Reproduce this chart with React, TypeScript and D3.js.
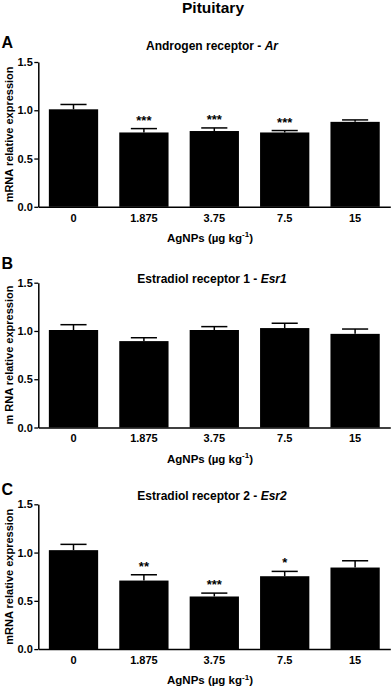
import React, { useEffect, useRef } from "react";
import * as d3 from "d3";

const categories = ["0", "1.875", "3.75", "7.5", "15"];
const yTicks = [0, 0.5, 1.0, 1.5];

const arMean = [1.01, 0.77, 0.785, 0.77, 0.88];
const arErr = [0.05, 0.04, 0.032, 0.02, 0.02];
const arSig = ["", "***", "***", "***", ""];

const esr1Mean = [1.01, 0.895, 1.01, 1.03, 0.97];
const esr1Err = [0.055, 0.035, 0.035, 0.05, 0.05];
const esr1Sig = ["", "", "", "", ""];

const esr2Mean = [1.025, 0.71, 0.545, 0.755, 0.845];
const esr2Err = [0.06, 0.06, 0.035, 0.05, 0.07];
const esr2Sig = ["", "**", "***", "*", ""];

const FONT = "'Liberation Sans', Arial, sans-serif";

type Panel = {
  letter: string;
  title: string;
  gene: string;
  yLabel: string;
  mean: number[];
  err: number[];
  sig: string[];
  top: number;
  letterY: number;
  titleY: number;
};

const panels: Panel[] = [
  { letter: "A", title: "Androgen receptor - ", gene: "Ar", yLabel: "mRNA relative expression",
    mean: arMean, err: arErr, sig: arSig, top: 62, letterY: 47.5, titleY: 50 },
  { letter: "B", title: "Estradiol receptor 1 - ", gene: "Esr1", yLabel: "m RNA relative expression",
    mean: esr1Mean, err: esr1Err, sig: esr1Sig, top: 282.7, letterY: 269, titleY: 282.5 },
  { letter: "C", title: "Estradiol receptor 2 - ", gene: "Esr2", yLabel: "mRNA relative expression",
    mean: esr2Mean, err: esr2Err, sig: esr2Sig, top: 504.3, letterY: 495, titleY: 499.5 },
];

export default function App() {
  const ref = useRef<SVGSVGElement | null>(null);

  useEffect(() => {
    if (!ref.current) return;
    const svg = d3.select(ref.current);
    svg.selectAll("*").remove();

    const width = 392;
    const left = 38.3;
    const right = 390.3;
    const plotH = 144.8;

    svg.append("text")
      .attr("x", width / 2 + 17)
      .attr("y", 13)
      .attr("text-anchor", "middle")
      .attr("font-size", 15.5)
      .attr("font-weight", "bold")
      .text("Pituitary");

    const x = d3.scaleBand<string>()
      .domain(categories)
      .range([left, right])
      .paddingInner(0.3)
      .paddingOuter(0.15);

    panels.forEach((p) => {
      const bottom = p.top + plotH;
      const y = d3.scaleLinear().domain([0, 1.5]).range([bottom, p.top]);
      const g = svg.append("g");

      g.append("text")
        .attr("x", 1.5)
        .attr("y", p.letterY)
        .attr("font-size", 16)
        .attr("font-weight", "bold")
        .text(p.letter);

      const t = g.append("text")
        .attr("x", 212)
        .attr("y", p.titleY)
        .attr("text-anchor", "middle")
        .attr("font-size", 12)
        .attr("font-weight", "bold");
      t.append("tspan").text(p.title);
      t.append("tspan").attr("font-style", "italic").text(p.gene);

      // bars
      g.selectAll(".bar")
        .data(p.mean)
        .enter()
        .append("rect")
        .attr("x", (_, i) => x(categories[i])!)
        .attr("width", x.bandwidth())
        .attr("y", (d) => y(d))
        .attr("height", (d) => bottom - y(d))
        .attr("fill", "black");

      // error bars
      const capW = x.bandwidth() * 0.53;
      p.mean.forEach((m, i) => {
        const cx = x(categories[i])! + x.bandwidth() / 2;
        const yt = y(m + p.err[i]);
        g.append("line")
          .attr("x1", cx).attr("x2", cx)
          .attr("y1", y(m)).attr("y2", yt)
          .attr("stroke", "black").attr("stroke-width", 1.5);
        g.append("line")
          .attr("x1", cx - capW / 2).attr("x2", cx + capW / 2)
          .attr("y1", yt).attr("y2", yt)
          .attr("stroke", "black").attr("stroke-width", 1.5);
        if (p.sig[i]) {
          g.append("text")
            .attr("x", cx)
            .attr("y", yt - 4)
            .attr("text-anchor", "middle")
            .attr("font-size", 13)
            .attr("font-weight", "bold")
            .text(p.sig[i]);
        }
      });

      // axes
      const yAxis = g.append("g")
        .attr("transform", `translate(${left},0)`)
        .call(d3.axisLeft(y).tickValues(yTicks).tickFormat(d3.format(".1f")).tickSize(4).tickSizeOuter(0).tickPadding(1.5));
      yAxis.selectAll("text").attr("font-size", 11).attr("font-weight", "bold").attr("font-family", FONT).attr("fill", "black");
      yAxis.selectAll("line").attr("stroke-width", 1.3);
      yAxis.select(".domain").attr("stroke-width", 1.5);

      const xAxis = g.append("g")
        .attr("transform", `translate(0,${bottom})`)
        .call(d3.axisBottom(x).tickSize(0).tickSizeOuter(0).tickPadding(7));
      xAxis.selectAll("text").attr("font-size", 11).attr("font-weight", "bold").attr("font-family", FONT).attr("fill", "black");
      xAxis.select(".domain").attr("stroke-width", 1.5);

      const xl = g.append("text")
        .attr("x", 210)
        .attr("y", bottom + 35)
        .attr("text-anchor", "middle")
        .attr("font-size", 11.5)
        .attr("font-weight", "bold");
      xl.append("tspan").text("AgNPs (\u00b5g kg");
      xl.append("tspan").attr("font-size", 8).attr("dy", -4.5).text("-1");
      xl.append("tspan").attr("dy", 4.5).text(")");

      g.append("text")
        .attr("transform", `translate(12.5,${(p.top + bottom) / 2}) rotate(-90)`)
        .attr("text-anchor", "middle")
        .attr("font-size", 11)
        .attr("font-weight", "bold")
        .text(p.yLabel);
    });
  }, []);

  return (
    <svg
      ref={ref}
      width={392}
      height={688}
      style={{ position: "absolute", left: 0, top: 0, background: "white", fontFamily: FONT }}
    />
  );
}
